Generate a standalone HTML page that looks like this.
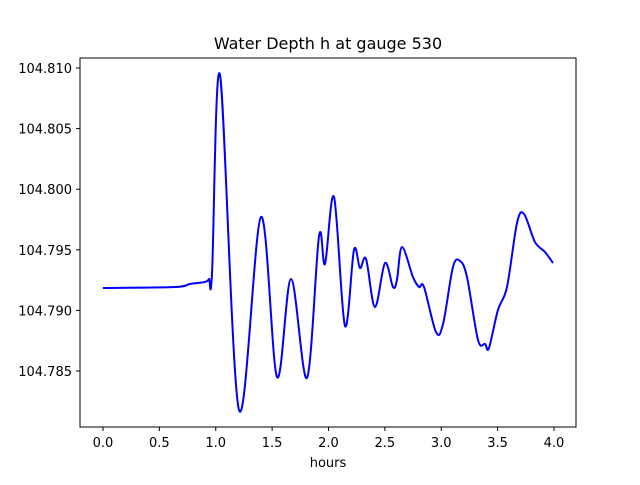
<!DOCTYPE html>
<html><head><meta charset="utf-8"><style>
body{margin:0;background:#fff;font-family:"Liberation Sans","DejaVu Sans",sans-serif;}
svg text{font-family:"DejaVu Sans","Liberation Sans",sans-serif;fill:#000;}
</style></head><body>
<svg id="chart" width="640" height="480" viewBox="0 0 640 480" xmlns="http://www.w3.org/2000/svg">
<rect width="640" height="480" fill="#fff"/>
<text x="328" y="49" font-size="16" text-anchor="middle">Water Depth h at gauge 530</text>
<g id="ticks"></g>
<path id="line" fill="none" stroke="#0000ff" stroke-width="2" stroke-linejoin="round"/>
<rect x="80" y="58" width="496" height="369" fill="none" stroke="#000" stroke-width="1"/>
<text x="328" y="467" font-size="13" text-anchor="middle">hours</text>
</svg>
<script>
const hours=[0,0.639,0.772,0.905,0.940,0.967,1.038,1.206,1.401,1.543,1.668,1.809,1.916,1.969,2.049,2.146,2.226,2.279,2.333,2.412,2.501,2.572,2.607,2.652,2.749,2.803,2.847,2.953,3.016,3.104,3.166,3.228,3.326,3.388,3.423,3.503,3.583,3.672,3.734,3.831,3.920,3.991];
const depth=[104.79185,104.79193,104.79218,104.79235,104.79259,104.79309,104.80942,104.78179,104.79771,104.78451,104.79259,104.78443,104.79614,104.79383,104.79936,104.78872,104.79499,104.79350,104.79424,104.79028,104.79391,104.79193,104.79251,104.79523,104.79276,104.79193,104.79193,104.78822,104.78888,104.79358,104.79408,104.79276,104.78756,104.78723,104.78690,104.79004,104.79193,104.79721,104.79796,104.79565,104.79482,104.79391];
const xTicks=[0,0.5,1,1.5,2,2.5,3,3.5,4];
const xTickLabels=["0.0","0.5","1.0","1.5","2.0","2.5","3.0","3.5","4.0"];
const yTicks=[104.785,104.790,104.795,104.800,104.805,104.810];
const yTickLabels=["104.785","104.790","104.795","104.800","104.805","104.810"];
const X=v=>103+v*112.75;
const Y=v=>68+(104.810-v)/0.005*60.6;
const NS="http://www.w3.org/2000/svg";
const g=document.getElementById('ticks');
function mk(t,a){const e=document.createElementNS(NS,t);for(const k in a)e.setAttribute(k,a[k]);return e;}
xTicks.forEach((v,i)=>{
  const l=mk('line',{x1:X(v),x2:X(v),y1:427,y2:431,stroke:'#000'});
  
  
  g.appendChild(l);
  const t=mk('text',{x:X(v),y:447,'font-size':13,'text-anchor':'middle'});
  
  
  t.textContent=xTickLabels[i];g.appendChild(t);
});
yTicks.forEach((v,i)=>{
  const l=mk('line',{x1:76,x2:80,y1:Y(v),y2:Y(v),stroke:'#000'});
  
  
  g.appendChild(l);
  const t=mk('text',{x:72,y:Y(v)+5,'font-size':13,'text-anchor':'end'});
  
  
  t.textContent=yTickLabels[i];g.appendChild(t);
});
const P=hours.map((h,i)=>[X(h),Y(depth[i])]);
let d='M'+P[0][0]+','+P[0][1];
for(let i=0;i<P.length-1;i++){
  const p0=P[Math.max(0,i-1)],p1=P[i],p2=P[i+1],p3=P[Math.min(P.length-1,i+2)];
  const c1=[p1[0]+(p2[0]-p0[0])/6,p1[1]+(p2[1]-p0[1])/6];
  const c2=[p2[0]-(p3[0]-p1[0])/6,p2[1]-(p3[1]-p1[1])/6];
  d+=' C'+c1[0]+','+c1[1]+' '+c2[0]+','+c2[1]+' '+p2[0]+','+p2[1];
}
document.getElementById('line').setAttribute('d',d);
</script>
</body></html>
